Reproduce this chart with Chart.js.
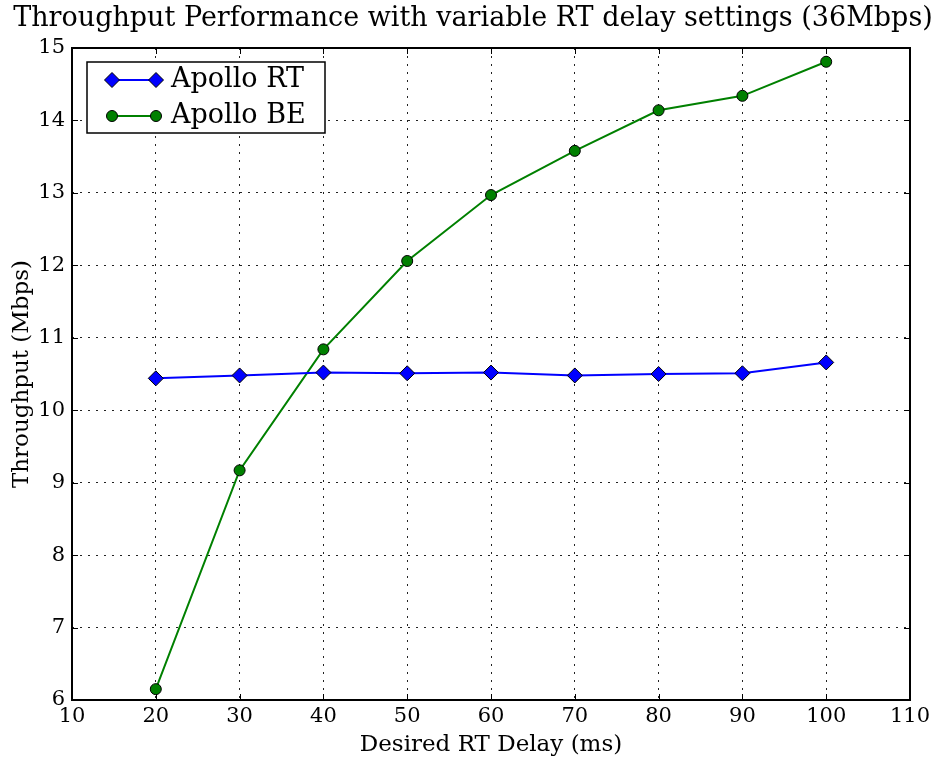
<!DOCTYPE html>
<html>
<head>
<meta charset="utf-8">
<script src="https://cdn.jsdelivr.net/npm/chart.js@4/dist/chart.umd.min.js"></script>
<style>
html,body{margin:0;padding:0;background:#fff;}
#wrap{width:939px;height:761px;}
</style>
</head>
<body>
<div id="wrap"><canvas id="c" width="939" height="761"></canvas></div>
<script>
const delays = [20, 30, 40, 50, 60, 70, 80, 90, 100];
const apolloRT = [10.44, 10.48, 10.52, 10.51, 10.52, 10.48, 10.50, 10.51, 10.66];
const apolloBE = [6.15, 9.17, 10.84, 12.06, 12.97, 13.58, 14.14, 14.34, 14.81];
const xTicks = [10, 20, 30, 40, 50, 60, 70, 80, 90, 100, 110];
const yTicks = [6, 7, 8, 9, 10, 11, 12, 13, 14, 15];
const seriesNames = ['Apollo RT', 'Apollo BE'];
const titleText = 'Throughput Performance with variable RT delay settings (36Mbps)';
const xTitle = 'Desired RT Delay (ms)';
const yTitle = 'Throughput (Mbps)';

const FONT = "'DejaVu Serif', 'Liberation Serif', serif";

const framePlugin = {
  id: 'frame',
  afterDatasetsDraw(chart) {
    const {ctx, chartArea: a, scales} = chart;
    ctx.save();
    // title
    ctx.fillStyle = '#000';
    ctx.font = "27px " + FONT;
    ctx.textAlign = 'center';
    ctx.textBaseline = 'middle';
    ctx.fillText(titleText, 473, 19);

    ctx.strokeStyle = '#000';
    ctx.lineWidth = 1;
    const tl = 6;
    xTicks.forEach(v => {
      const x = Math.round(scales.x.getPixelForValue(v)) + 0.5;
      ctx.beginPath();
      ctx.moveTo(x, a.bottom); ctx.lineTo(x, a.bottom - tl);
      ctx.moveTo(x, a.top); ctx.lineTo(x, a.top + tl);
      ctx.stroke();
    });
    yTicks.forEach(v => {
      const y = Math.round(scales.y.getPixelForValue(v)) + 0.5;
      ctx.beginPath();
      ctx.moveTo(a.left, y); ctx.lineTo(a.left + tl, y);
      ctx.moveTo(a.right, y); ctx.lineTo(a.right - tl, y);
      ctx.stroke();
    });
    ctx.lineWidth = 2;
    ctx.strokeRect(a.left, a.top, a.right - a.left, a.bottom - a.top);

    // legend
    const lx = 87, ly = 62, lw = 238, lh = 71;
    ctx.fillStyle = '#fff';
    ctx.fillRect(lx, ly, lw, lh);
    ctx.lineWidth = 1.5;
    ctx.strokeStyle = '#000';
    ctx.strokeRect(lx, ly, lw, lh);
    chart.data.datasets.forEach((ds, i) => {
      const y = 80 + i * 36;
      const x1 = 112, x2 = 156;
      ctx.strokeStyle = ds.borderColor;
      ctx.lineWidth = ds.borderWidth;
      ctx.beginPath(); ctx.moveTo(x1, y); ctx.lineTo(x2, y); ctx.stroke();
      [x1, x2].forEach(px => {
        ctx.fillStyle = ds.pointBackgroundColor;
        ctx.strokeStyle = ds.pointBorderColor;
        ctx.lineWidth = 1;
        Chart.helpers.drawPoint(ctx, {
          pointStyle: ds.pointStyle, radius: ds.pointRadius, borderWidth: 1, rotation: 0
        }, px, y);
      });
      ctx.fillStyle = '#000';
      ctx.font = "27px " + FONT;
      ctx.textBaseline = 'middle';
      ctx.textAlign = 'left';
      ctx.fillText(ds.label, 171, y);
    });
    ctx.restore();
  }
};

new Chart(document.getElementById('c'), {
  type: 'line',
  data: {
    datasets: [
      {
        label: seriesNames[0],
        data: delays.map((d, i) => ({x: d, y: apolloRT[i]})),
        borderColor: '#0000ff',
        backgroundColor: '#0000ff',
        borderWidth: 2,
        pointStyle: 'rectRot',
        pointRadius: 7.5,
        pointBorderColor: '#000',
        pointBackgroundColor: '#0000ff',
        pointBorderWidth: 1,
        tension: 0,
      },
      {
        label: seriesNames[1],
        data: delays.map((d, i) => ({x: d, y: apolloBE[i]})),
        borderColor: '#008000',
        backgroundColor: '#008000',
        borderWidth: 2,
        pointStyle: 'circle',
        pointRadius: 5.5,
        pointBorderColor: '#000',
        pointBackgroundColor: '#008000',
        pointBorderWidth: 1,
        tension: 0,
      }
    ]
  },
  options: {
    responsive: false,
    animation: false,
    devicePixelRatio: 1,
    layout: {padding: {left: 0, right: 29, top: 48, bottom: 2}},
    plugins: {
      legend: {display: false},
      tooltip: {enabled: false},
      title: {display: false}
    },
    scales: {
      x: {
        type: 'linear',
        min: 10, max: 110,
        afterBuildTicks(s) { s.ticks = xTicks.map(v => ({value: v})); },
        afterFit(s) { s.height = 59; },
        grid: {color: '#222', lineWidth: 1, drawTicks: false},
        border: {display: false, dash: [2, 6]},
        ticks: {color: '#000', font: {family: FONT, size: 21}, padding: 4, maxRotation: 0, autoSkip: false},
        title: {display: true, text: xTitle, color: '#000', font: {family: FONT, size: 23, lineHeight: 1.2}, padding: {top: 0, bottom: 0}},
      },
      y: {
        type: 'linear',
        min: 6, max: 15,
        afterBuildTicks(s) { s.ticks = yTicks.map(v => ({value: v})); },
        afterFit(s) { s.width = 72; },
        grid: {color: '#222', lineWidth: 1, drawTicks: false},
        border: {display: false, dash: [2, 6]},
        ticks: {color: '#000', font: {family: FONT, size: 21}, padding: 7, autoSkip: false},
        title: {display: true, text: yTitle, color: '#000', font: {family: FONT, size: 23, lineHeight: 1.2}, padding: {top: 8, bottom: 0}},
      }
    }
  },
  plugins: [framePlugin]
});
</script>
</body>
</html>
